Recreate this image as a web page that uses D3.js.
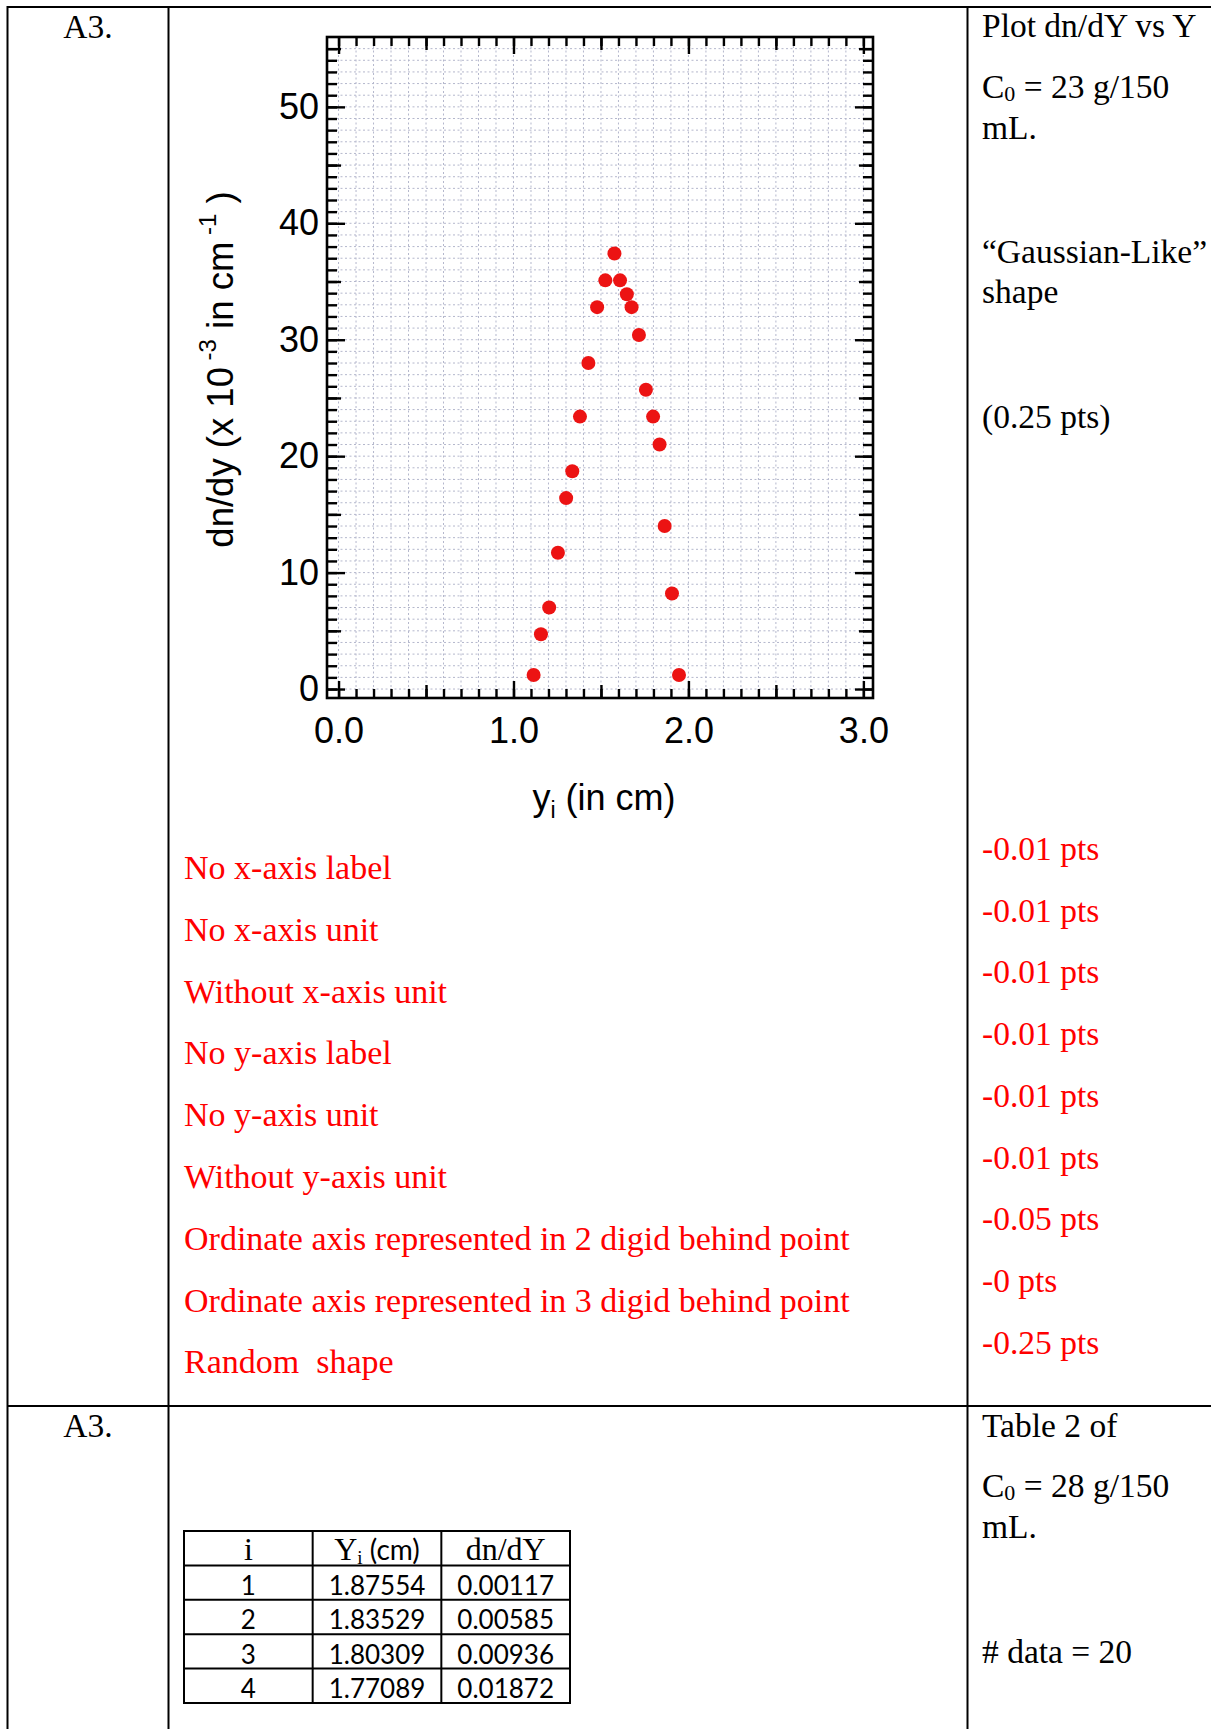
<!DOCTYPE html>
<html>
<head>
<meta charset="utf-8">
<script src="https://cdn.jsdelivr.net/npm/d3@7"></script>
<style>
  body{margin:0;background:#fff;}
  svg{display:block;}
</style>
</head>
<body>
<div id="page"></div>
<script>
// scatter data (y in 10^-3 cm^-1)
const yi   = [1.115, 1.157, 1.204, 1.254, 1.301, 1.336, 1.380, 1.428, 1.478, 1.525, 1.577,
              1.609, 1.648, 1.675, 1.717, 1.757, 1.798, 1.835, 1.864, 1.906, 1.946];
const dndy = [1.2, 4.7, 7.0, 11.7, 16.4, 18.7, 23.4, 28.0, 32.8, 35.1, 37.4,
              35.1, 33.9, 32.8, 30.4, 25.7, 23.4, 21.0, 14.0, 8.2, 1.2];

const xTickValues = [0, 1, 2, 3];
const xTickLabels = ['0.0', '1.0', '2.0', '3.0'];
const yTickValues = [0, 10, 20, 30, 40, 50];
const yTickLabels = ['0', '10', '20', '30', '40', '50'];

const deductions = ['No x-axis label', 'No x-axis unit', 'Without x-axis unit', 'No y-axis label',
  'No y-axis unit', 'Without y-axis unit', 'Ordinate axis represented in 2 digid behind point',
  'Ordinate axis represented in 3 digid behind point', 'Random  shape'];
const deductionPts = ['-0.01 pts', '-0.01 pts', '-0.01 pts', '-0.01 pts', '-0.01 pts',
  '-0.01 pts', '-0.05 pts', '-0 pts', '-0.25 pts'];

const tableI  = ['1', '2', '3', '4'];
const tableYi = ['1.87554', '1.83529', '1.80309', '1.77089'];
const tableDn = ['0.00117', '0.00585', '0.00936', '0.01872'];

const W = 1211, H = 1729;
const serif = '"Liberation Serif", "Times New Roman", serif';
const sans  = '"Liberation Sans", Arial, sans-serif';
const calib = 'Lato, "Open Sans", sans-serif';
const RED = '#ff0000';
const FS = 34;      // left column red notes
const FS_R = 33.5;  // right column notes

const svg = d3.select('#page').append('svg')
  .attr('width', W).attr('height', H)
  .style('background', '#fff');

// ---- document table lines ----
const frame = svg.append('g').attr('stroke', '#000').attr('stroke-width', 2);
frame.append('line').attr('x1', 7).attr('x2', W).attr('y1', 7).attr('y2', 7);
frame.append('line').attr('x1', 7).attr('x2', W).attr('y1', 1406).attr('y2', 1406);
[7.5, 168.5, 967.5].forEach(x => {
  frame.append('line').attr('x1', x).attr('x2', x).attr('y1', 6).attr('y2', H);
});

// ---- plot ----
const x = d3.scaleLinear().domain([-0.066, 3.055]).range([327, 873]);
const y = d3.scaleLinear().domain([-0.77, 56]).range([698, 37]);

const plot = svg.append('g');

// dotted grid
const gridX = d3.range(0, 3.0001, 0.1);
const gridY = d3.range(0, 56, 1);
plot.append('g').selectAll('line').data(gridX).enter().append('line')
  .attr('x1', d => x(d)).attr('x2', d => x(d))
  .attr('y1', y.range()[1]).attr('y2', y.range()[0])
  .attr('stroke', '#b4b7cc').attr('stroke-width', 1).attr('stroke-dasharray', '2,2.5');
plot.append('g').selectAll('line').data(gridY).enter().append('line')
  .attr('x1', x.range()[0]).attr('x2', x.range()[1])
  .attr('y1', d => y(d)).attr('y2', d => y(d))
  .attr('stroke', '#b4b7cc').attr('stroke-width', 1).attr('stroke-dasharray', '2,2.5');

// inward ticks on all four sides
const xMinor = d3.range(0, 3.0001, 0.1);
const xMid = [0.5, 1.5, 2.5];
const yMinor = d3.range(0, 56, 1);
const yMid = [5, 15, 25, 35, 45, 55];

function ticks(axisFn, scale, vals, size, tr){
  const g = plot.append('g').attr('transform', tr)
    .call(axisFn(scale).tickValues(vals).tickSize(-size).tickFormat(''));
  g.select('.domain').remove();
  g.selectAll('.tick line').attr('stroke', '#000').attr('stroke-width', 2.4);
  return g;
}
const bottomTr = `translate(0,${y.range()[0]})`;
const topTr = `translate(0,${y.range()[1]})`;
const leftTr = `translate(${x.range()[0]},0)`;
const rightTr = `translate(${x.range()[1]},0)`;

ticks(d3.axisBottom, x, xMinor, 9, bottomTr);
ticks(d3.axisBottom, x, xMid, 13, bottomTr);
ticks(d3.axisTop, x, xMinor, 9, topTr);
ticks(d3.axisTop, x, xMid, 13, topTr);
ticks(d3.axisLeft, y, yMinor, 10, leftTr);
ticks(d3.axisLeft, y, yMid, 14, leftTr);
ticks(d3.axisRight, y, yMinor, 10, rightTr);
ticks(d3.axisRight, y, yMid, 14, rightTr);
ticks(d3.axisTop, x, xTickValues, 17, topTr);
ticks(d3.axisRight, y, yTickValues, 18, rightTr);

const xAxis = plot.append('g').attr('transform', bottomTr)
  .call(d3.axisBottom(x).tickValues(xTickValues).tickSize(-17).tickPadding(19)
    .tickFormat((d, i) => xTickLabels[i]));
xAxis.select('.domain').remove();
xAxis.selectAll('.tick line').attr('stroke', '#000').attr('stroke-width', 2.4);
xAxis.selectAll('text').attr('font-family', sans).attr('font-size', 36).attr('fill', '#000');

const yAxis = plot.append('g').attr('transform', leftTr)
  .call(d3.axisLeft(y).tickValues(yTickValues).tickSize(-18).tickPadding(8)
    .tickFormat((d, i) => yTickLabels[i]));
yAxis.select('.domain').remove();
yAxis.selectAll('.tick line').attr('stroke', '#000').attr('stroke-width', 2.4);
yAxis.selectAll('text').attr('font-family', sans).attr('font-size', 36).attr('fill', '#000');

// frame
plot.append('rect')
  .attr('x', x.range()[0]).attr('y', y.range()[1])
  .attr('width', x.range()[1] - x.range()[0]).attr('height', y.range()[0] - y.range()[1])
  .attr('fill', 'none').attr('stroke', '#000').attr('stroke-width', 2.6);

// points
plot.append('g').selectAll('circle').data(yi).enter().append('circle')
  .attr('cx', d => x(d)).attr('cy', (d, i) => y(dndy[i]))
  .attr('r', 7).attr('fill', '#ec1313');

// axis titles
const xt = plot.append('text')
  .attr('x', (x.range()[0] + x.range()[1]) / 2 + 4).attr('y', 810)
  .attr('text-anchor', 'middle').attr('font-family', sans).attr('font-size', 36);
xt.append('tspan').text('y');
xt.append('tspan').attr('font-size', 23).attr('dy', 8).text('i');
xt.append('tspan').attr('dy', -8).text(' (in cm)');

const yt = plot.append('text')
  .attr('transform', `translate(233,${(y.range()[0] + y.range()[1]) / 2 + 2}) rotate(-90)`)
  .attr('text-anchor', 'middle').attr('font-family', sans).attr('font-size', 36.5);
yt.append('tspan').text('dn/dy (x 10');
yt.append('tspan').attr('font-size', 24).attr('dy', -17).text(' -3');
yt.append('tspan').attr('dy', 17).text(' in cm');
yt.append('tspan').attr('font-size', 24).attr('dy', -17).text(' -1');
yt.append('tspan').attr('dy', 17).text(' )');

// ---- document texts ----
function txt(str, tx, ty, opts = {}){
  return svg.append('text').attr('x', tx).attr('y', ty)
    .attr('font-family', opts.family || serif).attr('font-size', opts.size || FS_R)
    .attr('fill', opts.fill || '#000')
    .attr('text-anchor', opts.anchor || 'start')
    .text(str);
}
function cZero(val, ty){
  const t = svg.append('text').attr('x', 982).attr('y', ty)
    .attr('font-family', serif).attr('font-size', FS_R);
  t.append('tspan').text('C');
  t.append('tspan').attr('font-size', 22).attr('dy', 3).text('0');
  t.append('tspan').attr('dy', -3).text(` = ${val} g/150`);
}

txt('A3.', 88, 38, {anchor: 'middle'});
txt('Plot dn/dY vs Y', 982, 37);
cZero(23, 98);
txt('mL.', 982, 139);
txt('\u201cGaussian-Like\u201d', 982, 263);
txt('shape', 982, 303);
txt('(0.25 pts)', 982, 428);

svg.append('g').selectAll('text').data(deductions).enter().append('text')
  .attr('x', 184).attr('y', (d, i) => 879 + i * 61.8)
  .attr('font-family', serif).attr('font-size', FS).attr('fill', RED)
  .style('white-space', 'pre').text(d => d);
svg.append('g').selectAll('text').data(deductionPts).enter().append('text')
  .attr('x', 982).attr('y', (d, i) => 860 + i * 61.7)
  .attr('font-family', serif).attr('font-size', FS_R).attr('fill', RED)
  .text(d => d);

txt('A3.', 88, 1437, {anchor: 'middle'});
txt('Table 2 of', 982, 1437);
cZero(28, 1497);
txt('mL.', 982, 1538);
txt('# data = 20', 982, 1663);

// ---- small data table ----
const cols = d3.scaleBand().domain(['i', 'y', 'dn']).range([184, 570]);
const rows = d3.scaleBand().domain(['h'].concat(tableI)).range([1531, 1703]);
const tb = svg.append('g');
tb.append('rect').attr('x', 184).attr('y', 1531).attr('width', 386).attr('height', 172)
  .attr('fill', 'none').attr('stroke', '#000').attr('stroke-width', 2);
cols.domain().slice(1).forEach(c => {
  tb.append('line').attr('x1', cols(c)).attr('x2', cols(c)).attr('y1', 1531).attr('y2', 1703)
    .attr('stroke', '#000').attr('stroke-width', 2);
});
rows.domain().slice(1).forEach(r => {
  tb.append('line').attr('x1', 184).attr('x2', 570).attr('y1', rows(r)).attr('y2', rows(r))
    .attr('stroke', '#000').attr('stroke-width', 2);
});
const cx = c => cols(c) + cols.bandwidth() / 2;
const base = r => rows(r) + rows.bandwidth() - 5;

tb.append('text').attr('x', cx('i')).attr('y', base('h')).attr('text-anchor', 'middle')
  .attr('font-family', serif).attr('font-size', 32).text('i');
const hy = tb.append('text').attr('x', cx('y')).attr('y', base('h')).attr('text-anchor', 'middle')
  .attr('font-family', serif).attr('font-size', 32);
hy.append('tspan').text('Y');
hy.append('tspan').attr('font-size', 19).attr('dy', 4).text('i');
hy.append('tspan').attr('dy', -4).attr('font-family', calib).attr('font-size', 28).text(' (cm)');
tb.append('text').attr('x', cx('dn')).attr('y', base('h')).attr('text-anchor', 'middle')
  .attr('font-family', serif).attr('font-size', 32).text('dn/dY');

tableI.forEach((r, k) => {
  [[ 'i', r ], [ 'y', tableYi[k] ], [ 'dn', tableDn[k] ]].forEach(([c, v]) => {
    tb.append('text').attr('x', cx(c)).attr('y', base(r)).attr('text-anchor', 'middle')
      .attr('font-family', calib).attr('font-size', 26).text(v);
  });
});
</script>
</body>
</html>
